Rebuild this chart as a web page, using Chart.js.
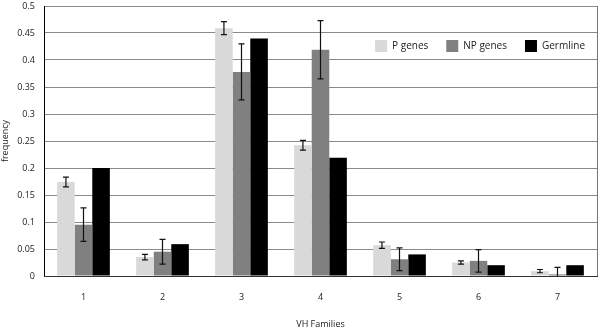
<!DOCTYPE html>
<html>
<head>
<meta charset="utf-8">
<script src="https://cdn.jsdelivr.net/npm/chart.js@4/dist/chart.umd.min.js"></script>
<style>
  html, body { margin: 0; padding: 0; background: #fff; }
  #chart { display: block; }
</style>
</head>
<body>
<canvas id="chart" width="600" height="327"></canvas>
<script>
// VH family frequencies
const families = ['1', '2', '3', '4', '5', '6', '7'];

const pGenes = [0.174, 0.035, 0.459, 0.242, 0.057, 0.025, 0.009];
const pErr = [0.009, 0.005, 0.012, 0.009, 0.006, 0.003, 0.003];

const npGenes = [0.095, 0.045, 0.378, 0.419, 0.031, 0.028, 0.003];
const npErr = [0.031, 0.023, 0.052, 0.054, 0.021, 0.021, 0.013];

const germline = [0.2, 0.059, 0.44, 0.219, 0.04, 0.02, 0.02];

const FONT = '"Open Sans", "Liberation Sans", sans-serif';

// Excel style error bars (symmetric, with caps)
const errorBars = {
    id: 'errorBars',
    afterDatasetsDraw(chart) {
        const { ctx, scales: { y }, chartArea } = chart;
        ctx.save();
        ctx.strokeStyle = '#111';
        ctx.lineWidth = 1.2;
        chart.data.datasets.forEach((ds, i) => {
            if (!ds.errors) return;
            const meta = chart.getDatasetMeta(i);
            meta.data.forEach((bar, j) => {
                const v = ds.data[j], e = ds.errors[j];
                const top = y.getPixelForValue(v + e);
                const bot = Math.min(y.getPixelForValue(v - e), chartArea.bottom);
                const x = bar.x;
                ctx.beginPath();
                ctx.moveTo(x, top); ctx.lineTo(x, bot);
                ctx.moveTo(x - 3, top); ctx.lineTo(x + 3, top);
                if (bot < chartArea.bottom) {
                    ctx.moveTo(x - 3, bot); ctx.lineTo(x + 3, bot);
                }
                ctx.stroke();
            });
        });
        ctx.restore();
    }
};

// legend sitting inside the plot, top right
const insideLegend = {
    id: 'insideLegend',
    afterDraw(chart) {
        const { ctx, chartArea } = chart;
        ctx.save();
        ctx.font = '10px ' + FONT;
        ctx.textBaseline = 'middle';
        const box = 12, gap = 5, spacing = 18;
        const items = chart.data.datasets.map(d => ({
            label: d.label, color: d.backgroundColor, w: ctx.measureText(d.label).width
        }));
        const total = items.reduce((s, it) => s + box + gap + it.w, 0) + spacing * (items.length - 1);
        let x = chartArea.right - 12 - total;
        const y = chartArea.top + 40;
        items.forEach(it => {
            ctx.fillStyle = it.color;
            ctx.fillRect(x, y - box / 2, box, box);
            ctx.fillStyle = '#222';
            ctx.fillText(it.label, x + box + gap, y);
            x += box + gap + it.w + spacing;
        });
        // right border of the plot
        ctx.strokeStyle = '#777';
        ctx.lineWidth = 1;
        ctx.beginPath();
        ctx.moveTo(chartArea.right + 0.5, chartArea.top);
        ctx.lineTo(chartArea.right + 0.5, chartArea.bottom);
        ctx.stroke();
        ctx.restore();
    }
};

new Chart(document.getElementById('chart'), {
    type: 'bar',
    data: {
        labels: families,
        datasets: [
            { label: 'P genes', data: pGenes, errors: pErr, backgroundColor: '#d9d9d9' },
            { label: 'NP genes', data: npGenes, errors: npErr, backgroundColor: '#808080' },
            { label: 'Germline', data: germline, backgroundColor: '#000000' }
        ]
    },
    options: {
        responsive: false,
        animation: false,
        layout: { padding: { top: 6, right: 3, left: 0, bottom: 0 } },
        datasets: {
            bar: { categoryPercentage: 0.667, barPercentage: 1.0 }
        },
        plugins: {
            legend: { display: false },
            tooltip: { enabled: false }
        },
        scales: {
            y: {
                min: 0,
                max: 0.5,
                ticks: {
                    stepSize: 0.05, padding: 9, color: '#222', font: { family: FONT, size: 9 },
                    callback: v => String(+v.toFixed(2))
                },
                grid: { color: '#8a8a8a', drawTicks: false },
                border: { color: '#000', width: 1 },
                title: { display: true, text: 'frequency', color: '#222', padding: 0, font: { family: FONT, size: 9 } },
                afterFit(scale) {
                    scale.width = 44;
                    scale.paddingTop = 0;
                    scale.paddingBottom = 0;
                }
            },
            x: {
                grid: { display: false, drawTicks: false },
                border: { color: '#333', width: 1 },
                ticks: { padding: 16, color: '#222', font: { family: FONT, size: 9 } },
                title: { display: true, text: 'VH Families', color: '#222', padding: { top: 10, bottom: -3 }, font: { family: FONT, size: 9 } },
                afterFit(scale) { scale.height = 51; }
            }
        }
    },
    plugins: [errorBars, insideLegend]
});
</script>
</body>
</html>
